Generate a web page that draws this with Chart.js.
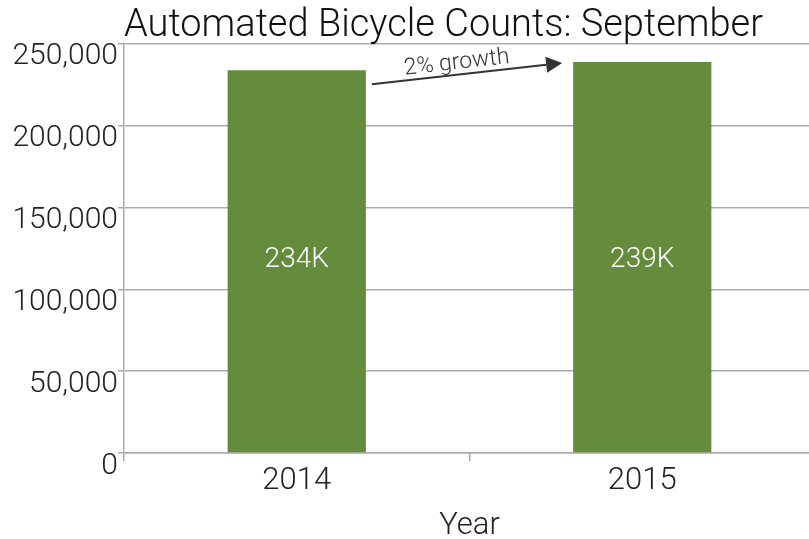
<!DOCTYPE html>
<html>
<head>
<meta charset="utf-8">
<script src="https://cdn.jsdelivr.net/npm/chart.js@4/dist/chart.umd.min.js"></script>
<style>
  html, body { margin: 0; padding: 0; background: #fff; overflow: hidden; }
  #wrap { width: 815px; height: 539px; position: relative; }
</style>
</head>
<body>
<div id="wrap"><canvas id="bikeChart"></canvas></div>
<script>
// === DATA ===
const years = ["2014", "2015"];
const counts = [234000, 239000];
const countLabels = ["234K", "239K"];
const yTicks = [0, 50000, 100000, 150000, 200000, 250000];
const growthNote = "2% growth";

const FONT = "Roboto, 'Liberation Sans', sans-serif";
const GREEN = "#658b3c";
const GRID = "#ababab";

// === BAR VALUE LABELS ===
const barLabelPlugin = {
  id: "barLabels",
  afterDatasetsDraw(chart) {
    const ctx = chart.ctx;
    const bars = chart.getDatasetMeta(0).data;
    const yScale = chart.scales.y;
    // both labels sit on one line, half way up the shorter bar
    const labelY = yScale.getPixelForValue(Math.min(...counts) / 2) - 2;
    ctx.save();
    ctx.fillStyle = "#fff";
    ctx.font = "300 28px " + FONT;
    ctx.textAlign = "center";
    ctx.textBaseline = "middle";
    bars.forEach((bar, i) => {
      ctx.fillText(countLabels[i], bar.x, labelY);
    });
    ctx.restore();
  }
};

// === GROWTH ARROW ===
const growthArrowPlugin = {
  id: "growthArrow",
  afterDatasetsDraw(chart) {
    const ctx = chart.ctx;
    const [a, b] = chart.getDatasetMeta(0).data;
    const x0 = a.x + a.width / 2 + 6, y0 = a.y + 14;
    const x1 = b.x - b.width / 2 - 11, y1 = b.y + 1;
    const ang = Math.atan2(y1 - y0, x1 - x0);
    const head = 16, half = 8;
    ctx.save();
    ctx.strokeStyle = "#333";
    ctx.fillStyle = "#333";
    ctx.lineWidth = 2;
    ctx.beginPath();
    ctx.moveTo(x0, y0);
    ctx.lineTo(x1 - head * Math.cos(ang), y1 - head * Math.sin(ang));
    ctx.stroke();
    ctx.translate(x1, y1);
    ctx.rotate(ang);
    ctx.beginPath();
    ctx.moveTo(0, 0);
    ctx.lineTo(-head, -half);
    ctx.lineTo(-head, half);
    ctx.closePath();
    ctx.fill();
    ctx.restore();

    ctx.save();
    ctx.translate((x0 + x1) / 2 - 9, (y0 + y1) / 2 + 1);
    ctx.rotate(ang);
    ctx.fillStyle = "#333";
    ctx.font = "300 23px " + FONT;
    ctx.textAlign = "center";
    ctx.textBaseline = "bottom";
    ctx.fillText(growthNote, 0, 0);
    ctx.restore();
  }
};

new Chart(document.getElementById("bikeChart"), {
  type: "bar",
  data: {
    labels: years,
    datasets: [{
      data: counts,
      backgroundColor: GREEN,
      borderWidth: 0,
      barPercentage: 0.4,
      categoryPercentage: 1
    }]
  },
  options: {
    responsive: true,
    maintainAspectRatio: false,
    animation: false,
    layout: { padding: 0 },
    plugins: {
      legend: { display: false },
      tooltip: { enabled: false },
      title: {
        display: true,
        text: "Automated Bicycle Counts: September",
        align: "start",
        fullSize: false,
        color: "#111",
        font: { family: FONT, size: 38, weight: "300", lineHeight: 0.92 },
        padding: { top: 9, bottom: 0 }
      }
    },
    scales: {
      x: {
        grid: { drawOnChartArea: false, color: GRID, lineWidth: 1.5, tickLength: 8 },
        border: { color: GRID, width: 1.5 },
        ticks: { color: "#222", font: { family: FONT, size: 31, weight: "300" }, padding: 2 },
        title: {
          display: true,
          text: "Year",
          color: "#222",
          font: { family: FONT, size: 31, weight: "300" },
          padding: { top: 4, bottom: -6 }
        },
        afterFit(scale) { scale.height = 86; }
      },
      y: {
        min: yTicks[0],
        max: yTicks[yTicks.length - 1],
        afterBuildTicks(scale) { scale.ticks = yTicks.map(v => ({ value: v })); },
        grid: { color: GRID, lineWidth: 1.5, tickLength: 6 },
        border: { color: GRID, width: 1.5 },
        ticks: {
          color: "#222",
          font: { family: FONT, size: 30, weight: "300" },
          padding: 0,
          labelOffset: 13,
          callback: v => v.toLocaleString("en-US")
        },
        afterFit(scale) { scale.width = 124; }
      }
    }
  },
  plugins: [barLabelPlugin, growthArrowPlugin]
});
</script>
</body>
</html>
